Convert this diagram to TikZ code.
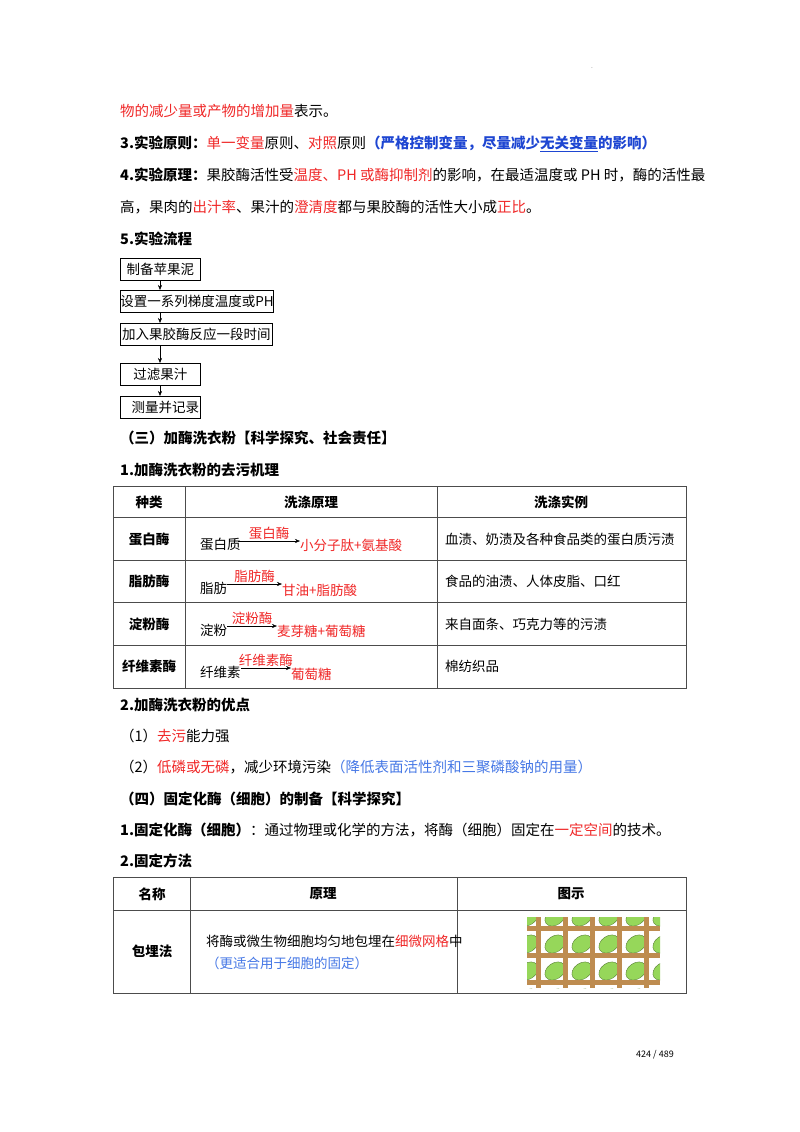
\documentclass[tikz,border=0pt]{standalone}
\usepackage{fontspec}
\setmainfont{Noto Sans CJK SC}
\usepackage{xcolor}
\usetikzlibrary{arrows.meta}
\definecolor{rd}{RGB}{240,40,40}
\definecolor{bl}{RGB}{30,70,210}
\definecolor{lb}{RGB}{70,120,230}
\definecolor{br}{RGB}{190,140,80}
\definecolor{gr}{RGB}{150,215,90}
\newcommand{\R}[1]{\textcolor{rd}{#1}}
\begin{document}
\begin{tikzpicture}[x=1pt,y=-1pt,
 t/.style={anchor=west,inner sep=0pt,font=\fontsize{14.5}{14.5}\selectfont},
 tb/.style={t,font=\fontsize{14.5}{14.5}\selectfont\bfseries},
 t2/.style={anchor=west,inner sep=0pt,font=\fontsize{13.5}{13.5}\selectfont},
 c/.style={inner sep=0pt,font=\fontsize{13.5}{13.5}\selectfont},
 cb/.style={c,font=\fontsize{13.5}{13.5}\selectfont\bfseries},
 box/.style={draw,thick,anchor=north west,inner sep=0pt,font=\fontsize{13.5}{13.5}\selectfont},
 arr/.style={-{Stealth[length=5pt,width=4pt]},thin},
 grid/.style={line width=0.8pt,black!70}]
\useasboundingbox (0,0) rectangle (800,1132);
\fill[white] (0,0) rectangle (800,1132);
\node[c,font=\tiny] (dot) at (592,68) {.};
\node[t] (l1) at (120,111) {\R{物的减少量或产物的增加量}表示。};
\node[t] (l2) at (120,144) {\textbf{3.实验原则：}\R{单一变量}原则、\R{对照}原则\textcolor{bl}{\bfseries（严格控制变量，尽量减少\underline{无关变量}的影响）}};
\node[t] (l3) at (120,175) {\textbf{4.实验原理：}果胶酶活性受\R{温度、PH 或酶抑制剂}的影响，在最适温度或 PH 时，酶的活性最};
\node[t] (l4) at (120,207) {高，果肉的\R{出汁率}、果汁的\R{澄清度}都与果胶酶的活性大小成\R{正比}。};
\node[tb] (l5) at (120,239) {5.实验流程};
\node[box,minimum width=80,minimum height=22] (f1) at (120,258) {制备苹果泥};
\node[box,minimum width=152,minimum height=22] (f2) at (120,290) {设置一系列梯度温度或PH};
\node[box,minimum width=152,minimum height=22] (f3) at (120,323) {加入果胶酶反应一段时间};
\node[box,minimum width=80,minimum height=22] (f4) at (120,363) {过滤果汁};
\node[box,minimum width=80,minimum height=22] (f5) at (120,396) {\hspace{10pt}测量并记录};
\foreach \a/\b in {f1/f2,f2/f3,f3/f4,f4/f5}
  \draw[arr] (\a.south west)++(40,0) coordinate(s\a) -- (s\a|-\b.north);
\node[tb] (h3) at (120,438) {（三）加酶洗衣粉【科学探究、社会责任】};
\node[tb] (h31) at (120,470) {1.加酶洗衣粉的去污机理};
% table 1
\draw[grid] (113,486) rectangle (686,688);
\foreach \y in {517,560,602,645} \draw[grid] (113,\y) -- (686,\y);
\foreach \x in {185,437} \draw[grid] (\x,486) -- (\x,688);
\node[cb] (a0) at (149,502) {种类};
\node[cb] (b0) at (311,502) {洗涤原理};
\node[cb] (c0) at (561,502) {洗涤实例};
\node[cb] (a1) at (149,539) {蛋白酶};
\node[cb] (a2) at (149,581) {脂肪酶};
\node[cb] (a3) at (149,624) {淀粉酶};
\node[cb] (a4) at (149,666) {纤维素酶};
\node[t2] (c1) at (445,539) {血渍、奶渍及各种食品类的蛋白质污渍};
\node[t2] (c2) at (445,581) {食品的油渍、人体皮脂、口红};
\node[t2] (c3) at (445,624) {来自面条、巧克力等的污渍};
\node[t2] (c4) at (445,666) {棉纺织品};
\node[t2] (s1) at (200,544) {蛋白质};
\node[t2] (p1) at (300,545) {\R{小分子肽+氨基酸}};
\draw[arr] (238,541) coordinate (e1) -- (p1.west|-e1) node[midway,above=1pt,c] (k1) {\R{蛋白酶}};
\node[t2] (s2) at (200,588) {脂肪};
\node[t2] (p2) at (282,590) {\R{甘油+脂肪酸}};
\draw[arr] (s2.east|-0,584) coordinate (e2) -- (p2.west|-e2) node[midway,above=1pt,c] (k2) {\R{脂肪酶}};
\node[t2] (s3) at (200,630) {淀粉};
\node[t2] (p3) at (277,631) {\R{麦芽糖+葡萄糖}};
\draw[arr] (s3.east|-0,626) coordinate (e3) -- (p3.west|-e3) node[midway,above=1pt,c] (k3) {\R{淀粉酶}};
\node[t2] (s4) at (200,672) {纤维素};
\node[t2] (p4) at (291,674) {\R{葡萄糖}};
\draw[arr] (s4.east|-0,668) coordinate (e4) -- (p4.west|-e4) node[midway,above=1pt,c] (k4) {\R{纤维素酶}};
\node[tb] (h32) at (120,705) {2.加酶洗衣粉的优点};
\node[t] (i1) at (120,736) {（1）\R{去污}能力强};
\node[t] (i2) at (120,767) {（2）\R{低磷或无磷}，减少环境污染\textcolor{lb}{（降低表面活性剂和三聚磷酸钠的用量）}};
\node[tb] (h4) at (120,799) {（四）固定化酶（细胞）的制备【科学探究】};
\node[t] (h41) at (120,830) {\textbf{1.固定化酶（细胞）}：通过物理或化学的方法，将酶（细胞）固定在\R{一定空间}的技术。};
\node[tb] (h42) at (120,861) {2.固定方法};
% table 2
\draw[grid] (113,877) rectangle (686,993);
\draw[grid] (113,910) -- (686,910);
\foreach \x in {190,457} \draw[grid] (\x,877) -- (\x,993);
\node[cb] (m0) at (152,894) {名称};
\node[cb] (n0) at (323,894) {原理};
\node[cb] (o0) at (571,894) {图示};
\node[cb] (m1) at (152,951) {包埋法};
\node[t2] (n1) at (206,941) {将酶或微生物细胞均匀地包埋在\R{细微网格}中};
\node[t2] (n2) at (206,963) {\textcolor{lb}{（更适合用于细胞的固定）}};
% picture
\begin{scope}
\clip (527,917) rectangle (660,988);
\fill[white] (527,917) rectangle (660,988);
\foreach \i in {0,...,5} \foreach \j in {0,...,3}
  \fill[gr,draw=gr!60!black,line width=0.4pt,rotate around={35:(528+\i*27,917+\j*27)}] (528+\i*27,917+\j*27) ellipse (11 and 8);
\foreach \i in {0,...,4}
  \fill[br] (536+\i*27,917) rectangle ++(5,71);
\foreach \j in {0,...,2}
  \fill[br] (527,926+\j*27) rectangle ++(133,5);
\end{scope}
\node[c,font=\fontsize{9}{9}\selectfont] (pg) at (655,1055) {424 / 489};
\end{tikzpicture}
\end{document}
